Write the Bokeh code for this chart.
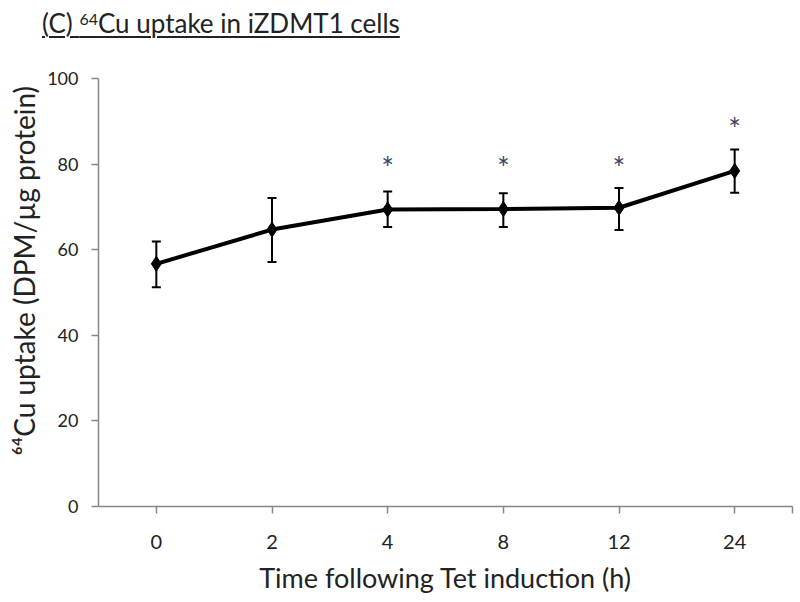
from bokeh.plotting import figure
from bokeh.models import (ColumnDataSource, Whisker, FixedTicker, Range1d, Title, Div)
from bokeh.layouts import column
from bokeh.core.properties import value
from bokeh.embed import file_html
from bokeh.resources import INLINE

# ---- data ----
categories = ["0", "2", "4", "8", "12", "24"]
uptake = [56.7, 64.7, 69.4, 69.5, 69.8, 78.4]
err_upper = [61.9, 72.1, 73.6, 73.2, 74.4, 83.4]
err_lower = [51.2, 57.1, 65.3, 65.3, 64.6, 73.3]
star_level = [None, None, 80.3, 80.3, 80.3, 89.3]
y_ticks = [0, 20, 40, 60, 80, 100]

FONT = "Lato"
TXT = "#222222"
xpos = [i + 0.5 for i in range(len(categories))]

TITLE_H = 44
title_div = Div(
    text=('<div style="font-family:Lato;font-size:26px;color:#222222;line-height:1;'
          'padding-left:42px;padding-top:10px;white-space:nowrap;">'
          '<span style="text-decoration:underline;text-decoration-thickness:1.5px;'
          'text-underline-offset:3px;">(C) <span style="font-size:16px;vertical-align:8px;">64</span>'
          'Cu uptake in iZDMT1 cells</span></div>'),
    width=794, height=TITLE_H, margin=0)

p = figure(width=794, height=600 - TITLE_H, output_backend="svg", toolbar_location=None,
           x_range=Range1d(0, len(categories)), y_range=Range1d(0, 100),
           min_border_left=98, min_border_right=2, min_border_top=78 - TITLE_H,
           min_border_bottom=94, margin=0)
p.outline_line_color = None
p.grid.grid_line_color = None
p.background_fill_color = "white"
p.border_fill_color = "white"

# axes
p.xaxis.ticker = FixedTicker(ticks=xpos + [len(categories)])
p.xaxis.major_label_overrides = {**{xp: c for xp, c in zip(xpos, categories)}, len(categories): ""}
p.yaxis.ticker = FixedTicker(ticks=y_ticks)
for ax in (p.xaxis[0], p.yaxis[0]):
    ax.axis_line_color = "#868686"
    ax.axis_line_width = 1.5
    ax.major_tick_line_color = "#868686"
    ax.major_tick_line_width = 1.5
    ax.major_tick_out = 7
    ax.major_tick_in = 0
    ax.minor_tick_line_color = None
    ax.major_label_text_font = FONT
    ax.major_label_text_color = TXT
    ax.axis_label_text_font = FONT
    ax.axis_label_text_font_style = "normal"
    ax.axis_label_text_color = TXT
p.xaxis.major_label_text_font_size = "20px"
p.yaxis.major_label_text_font_size = "18px"
p.xaxis.major_label_standoff = 21
p.yaxis.major_label_standoff = 13
p.xaxis.axis_label = "Time following Tet induction (h)"
p.xaxis.axis_label_text_font_size = "27px"
p.xaxis.axis_label_standoff = 9

# y label as a left-side title, starting above the frame bottom like the reference
p.add_layout(Title(text="\u2076\u2074Cu uptake (DPM/\u00b5g protein)", align="left",
                   offset=51, standoff=7, text_font=FONT, text_font_size="28px",
                   text_font_style="normal", text_color=TXT), "left")

src = ColumnDataSource(dict(x=xpos, y=uptake, upper=err_upper, lower=err_lower))
w = Whisker(source=src, base="x", upper="upper", lower="lower", line_color="black", line_width=2)
w.upper_head.size = 9
w.lower_head.size = 9
w.upper_head.line_width = 2
w.lower_head.line_width = 2
p.add_layout(w)
p.line("x", "y", source=src, line_color="black", line_width=4)
p.scatter("x", "y", source=src, marker="diamond", size=15, color="black")

sx = [xp for xp, s in zip(xpos, star_level) if s is not None]
sy = [s for s in star_level if s is not None]
p.text(x=sx, y=sy, text=["*"] * len(sx), text_align="center", text_baseline="middle",
       text_font=value(FONT), text_font_size="30px", text_color="#3b4466", y_offset=4)

layout = column(title_div, p, spacing=0)
open("out.html", "w").write(file_html(layout, INLINE))
